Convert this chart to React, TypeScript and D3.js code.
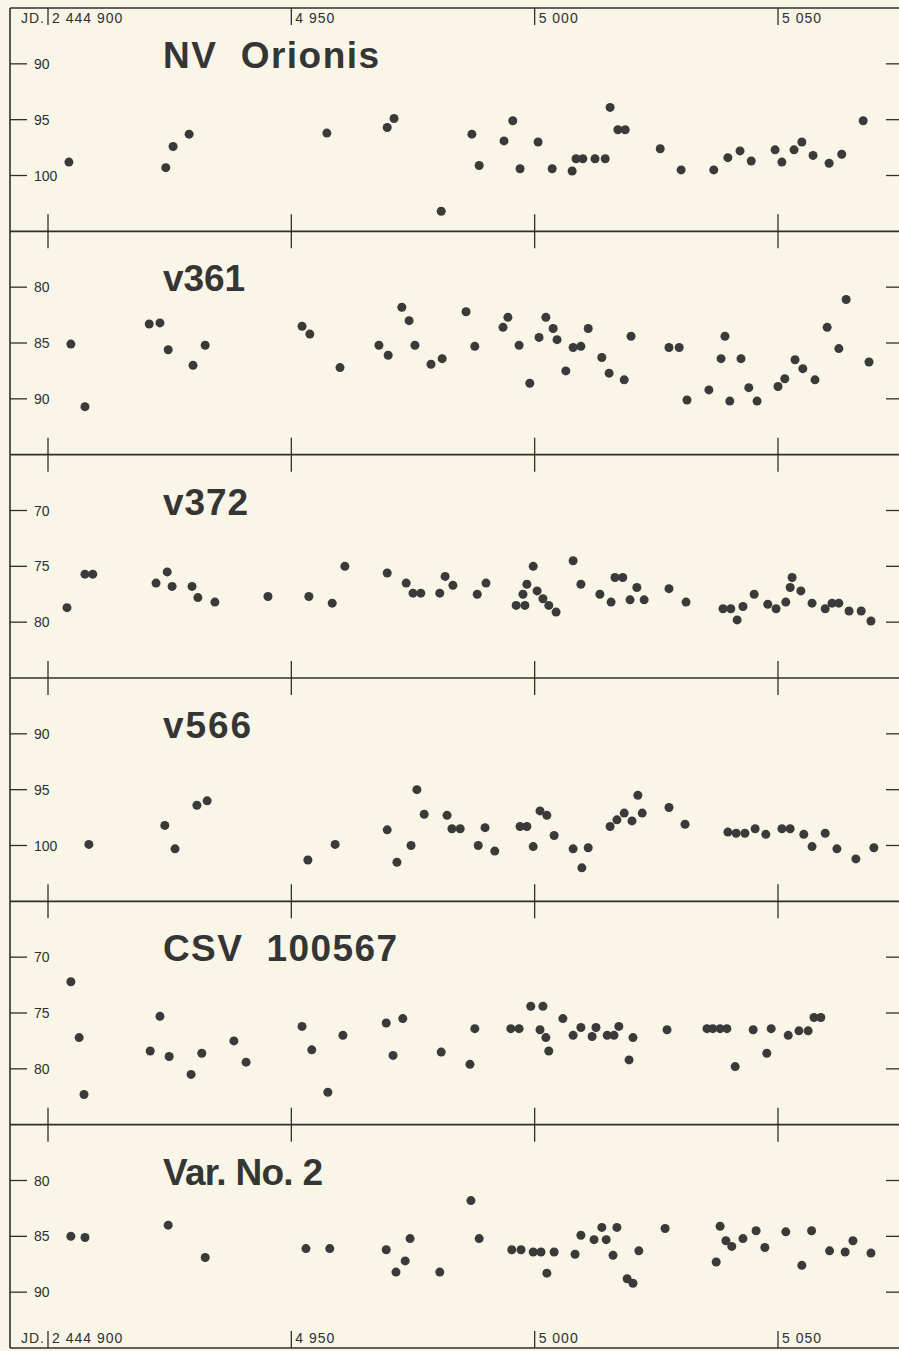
import * as d3 from "d3";

// Light curves, JD (2 444 000 +) vs magnitude (hundredths scale as printed)
const titles = ["NV  Orionis", "v361", "v372", "v566", "CSV  100567", "Var. No. 2"];
const yTicks = [
  [90, 95, 100],
  [80, 85, 90],
  [70, 75, 80],
  [90, 95, 100],
  [70, 75, 80],
  [80, 85, 90],
];
const jdTicks = [4900, 4950, 5000, 5050];
const jdTickLabels = ["2 444 900", "4 950", "5 000", "5 050"];

const nvOrionis: [number, number][] = [
  [4904.3, 98.8], [4924.2, 99.3], [4925.7, 97.4], [4929.0, 96.3], [4957.3, 96.2], [4969.7, 95.7],
  [4971.1, 94.9], [4980.8, 103.2], [4987.1, 96.3], [4988.6, 99.1], [4993.7, 96.9], [4995.5, 95.1],
  [4997.0, 99.4], [5000.7, 97.0], [5003.6, 99.4], [5007.7, 99.6], [5008.5, 98.5], [5009.9, 98.5],
  [5012.4, 98.5], [5014.5, 98.5], [5015.5, 93.9], [5017.1, 95.9], [5018.6, 95.9], [5025.8, 97.6],
  [5030.1, 99.5], [5036.8, 99.5], [5039.7, 98.4], [5042.2, 97.8], [5044.5, 98.7], [5049.4, 97.7],
  [5050.8, 98.8], [5053.3, 97.7], [5054.9, 97.0], [5057.2, 98.2], [5060.5, 98.9], [5063.1, 98.1],
  [5067.5, 95.1],
];

const v361: [number, number][] = [
  [4904.7, 85.1], [4907.6, 90.7], [4920.8, 83.3], [4923.0, 83.2], [4924.7, 85.6], [4929.8, 87.0],
  [4932.3, 85.2], [4952.2, 83.5], [4953.8, 84.2], [4960.0, 87.2], [4968.0, 85.2], [4969.9, 86.1],
  [4972.7, 81.8], [4974.2, 83.0], [4975.4, 85.2], [4978.7, 86.9], [4981.0, 86.4], [4985.9, 82.2],
  [4987.7, 85.3], [4993.5, 83.6], [4994.5, 82.7], [4996.8, 85.2], [4999.0, 88.6], [5000.9, 84.5],
  [5002.3, 82.7], [5003.8, 83.7], [5004.6, 84.7], [5006.4, 87.5], [5007.9, 85.4], [5009.5, 85.3],
  [5011.0, 83.7], [5013.8, 86.3], [5015.3, 87.7], [5018.4, 88.3], [5019.8, 84.4], [5027.6, 85.4],
  [5029.7, 85.4], [5031.3, 90.1], [5035.8, 89.2], [5038.3, 86.4], [5039.1, 84.4], [5040.1, 90.2],
  [5042.4, 86.4], [5044.0, 89.0], [5045.7, 90.2], [5050.0, 88.9], [5051.4, 88.2], [5053.5, 86.5],
  [5055.1, 87.3], [5057.6, 88.3], [5060.1, 83.6], [5062.5, 85.5], [5064.0, 81.1], [5068.7, 86.7],
];

const v372: [number, number][] = [
  [4903.9, 78.7], [4907.6, 75.7], [4909.2, 75.7], [4922.2, 76.5], [4924.5, 75.5], [4925.5, 76.8],
  [4929.6, 76.8], [4930.8, 77.8], [4934.3, 78.2], [4945.2, 77.7], [4953.6, 77.7], [4958.4, 78.3],
  [4961.0, 75.0], [4969.7, 75.6], [4973.6, 76.5], [4975.0, 77.4], [4976.6, 77.4], [4980.5, 77.4],
  [4981.6, 75.9], [4983.2, 76.7], [4988.2, 77.5], [4990.0, 76.5], [4996.2, 78.5], [4997.6, 77.5],
  [4998.0, 78.5], [4998.4, 76.6], [4999.7, 75.0], [5000.5, 77.2], [5001.7, 77.9], [5002.9, 78.5],
  [5004.4, 79.1], [5007.9, 74.5], [5009.5, 76.6], [5013.4, 77.5], [5015.7, 78.2], [5016.5, 76.0],
  [5018.1, 76.0], [5019.6, 78.0], [5021.0, 76.9], [5022.5, 78.0], [5027.6, 77.0], [5031.1, 78.2],
  [5038.7, 78.8], [5040.3, 78.8], [5041.6, 79.8], [5042.8, 78.6], [5045.1, 77.5], [5047.9, 78.4],
  [5049.6, 78.8], [5051.6, 78.2], [5052.5, 76.9], [5052.9, 76.0], [5054.7, 77.2], [5057.0, 78.3],
  [5059.7, 78.8], [5061.1, 78.3], [5062.5, 78.3], [5064.6, 79.0], [5067.1, 79.0], [5069.1, 79.9],
];

const v566: [number, number][] = [
  [4908.4, 99.9], [4924.0, 98.2], [4926.1, 100.3], [4930.6, 96.4], [4932.7, 96.0], [4953.4, 101.3],
  [4959.0, 99.9], [4969.7, 98.6], [4971.7, 101.5], [4974.6, 100.0], [4975.8, 95.0], [4977.3, 97.2],
  [4982.0, 97.3], [4983.0, 98.5], [4984.7, 98.5], [4988.4, 100.0], [4989.8, 98.4], [4991.8, 100.5],
  [4997.0, 98.3], [4998.4, 98.3], [4999.7, 100.1], [5001.1, 96.9], [5002.5, 97.3], [5004.0, 99.1],
  [5007.9, 100.3], [5009.7, 102.0], [5011.0, 100.2], [5015.5, 98.3], [5016.9, 97.7], [5018.4, 97.1],
  [5020.0, 97.8], [5021.2, 95.5], [5022.1, 97.1], [5027.6, 96.6], [5030.9, 98.1], [5039.7, 98.8],
  [5041.4, 98.9], [5043.2, 98.9], [5045.3, 98.5], [5047.5, 99.0], [5050.8, 98.5], [5052.5, 98.5],
  [5055.3, 99.0], [5057.0, 100.1], [5059.7, 98.9], [5062.1, 100.3], [5066.0, 101.2], [5069.7, 100.2],
];

const csv100567: [number, number][] = [
  [4904.7, 72.2], [4906.4, 77.2], [4907.4, 82.3], [4921.0, 78.4], [4923.0, 75.3], [4924.9, 78.9],
  [4929.4, 80.5], [4931.6, 78.6], [4938.2, 77.5], [4940.7, 79.4], [4952.2, 76.2], [4954.2, 78.3],
  [4957.5, 82.1], [4960.6, 77.0], [4969.5, 75.9], [4970.9, 78.8], [4972.9, 75.5], [4980.8, 78.5],
  [4986.7, 79.6], [4987.7, 76.4], [4995.1, 76.4], [4996.8, 76.4], [4999.2, 74.4], [5001.1, 76.5],
  [5001.7, 74.4], [5002.3, 77.2], [5002.9, 78.4], [5005.8, 75.5], [5007.9, 77.0], [5009.5, 76.3],
  [5011.8, 77.1], [5012.6, 76.3], [5014.9, 77.0], [5016.3, 77.0], [5017.3, 76.2], [5019.4, 79.2],
  [5020.2, 77.2], [5027.2, 76.5], [5035.4, 76.4], [5036.6, 76.4], [5038.1, 76.4], [5039.5, 76.4],
  [5041.2, 79.8], [5044.9, 76.5], [5047.7, 78.6], [5048.6, 76.4], [5052.1, 77.0], [5054.3, 76.6],
  [5056.2, 76.6], [5057.4, 75.4], [5058.8, 75.4],
];

const var2: [number, number][] = [
  [4904.7, 85.0], [4907.6, 85.1], [4924.7, 84.0], [4932.3, 86.9], [4953.0, 86.1], [4957.9, 86.1],
  [4969.5, 86.2], [4971.5, 88.2], [4973.4, 87.2], [4974.4, 85.2], [4980.5, 88.2], [4986.9, 81.8],
  [4988.6, 85.2], [4995.3, 86.2], [4997.2, 86.2], [4999.7, 86.4], [5001.3, 86.4], [5002.5, 88.3],
  [5004.0, 86.4], [5008.3, 86.6], [5009.5, 84.9], [5012.2, 85.3], [5013.8, 84.2], [5014.7, 85.3],
  [5016.1, 86.7], [5016.9, 84.2], [5019.0, 88.8], [5020.2, 89.2], [5021.4, 86.3], [5026.8, 84.3],
  [5037.3, 87.3], [5038.1, 84.1], [5039.3, 85.4], [5040.5, 85.9], [5042.8, 85.2], [5045.5, 84.5],
  [5047.3, 86.0], [5051.6, 84.6], [5054.9, 87.6], [5056.9, 84.5], [5060.6, 86.3], [5063.8, 86.4],
  [5065.4, 85.4], [5069.1, 86.5],
];

const series = [nvOrionis, v361, v372, v566, csv100567, var2];

const W = 899;
const H = 1351;
const frameLeft = 10;
const frameTop = 8;
const frameBottom = 1348;
const panelH = (frameBottom - frameTop) / 6;
const titleWidths = [216, 82, 85, 88, 234, 160];
const ink = "#2f2f2f";
const dotColor = "#3a3a3a";
const paper = "#f9f6e7";
const labelFont = "'Liberation Sans', Arial, sans-serif";

export default function App() {
  const x = d3.scaleLinear().domain([4900, 5050]).range([48, 778]);

  const panels = series.map((data, i) => {
    const top = frameTop + i * panelH;
    const t0 = yTicks[i][0];
    const y = d3.scaleLinear().domain([t0 - 5, t0 + 15]).range([top, top + panelH]);
    return { data, top, y, ticks: yTicks[i], title: titles[i] };
  });

  const boundaries = d3.range(1, 6).map((i) => frameTop + i * panelH);

  return (
    <div style={{ position: "absolute", left: 0, top: 0 }}>
      <svg width={W} height={H} style={{ display: "block" }}>
        <rect x={0} y={0} width={W} height={H} fill={paper} />

        {/* frame */}
        <g stroke={ink} strokeWidth={1.6} fill="none">
          <line x1={frameLeft} x2={frameLeft} y1={frameTop} y2={frameBottom} />
          <line x1={frameLeft} x2={W} y1={frameTop} y2={frameTop} />
          <line x1={frameLeft} x2={W} y1={frameBottom} y2={frameBottom} />
          {boundaries.map((b, i) => (
            <line key={i} x1={frameLeft} x2={W} y1={b} y2={b} />
          ))}
        </g>

        {/* JD ticks on every horizontal rule */}
        <g stroke={ink} strokeWidth={1.3}>
          {jdTicks.map((t) => (
            <g key={t}>
              <line x1={x(t)} x2={x(t)} y1={frameTop} y2={frameTop + 17} />
              <line x1={x(t)} x2={x(t)} y1={frameBottom - 17} y2={frameBottom} />
              {boundaries.map((b, i) => (
                <line key={i} x1={x(t)} x2={x(t)} y1={b - 17} y2={b + 17} />
              ))}
            </g>
          ))}
        </g>

        {/* JD labels, top and bottom */}
        {[frameTop + 15, frameBottom - 5].map((base, k) => (
          <g key={k} fontFamily={labelFont} fontSize={14} fill={ink} letterSpacing={1}>
            <text x={frameLeft + 11} y={base}>JD.</text>
            {jdTicks.map((t, j) => (
              <text key={t} x={x(t) + 4} y={base}>
                {jdTickLabels[j]}
              </text>
            ))}
          </g>
        ))}

        {panels.map((p, i) => (
          <g key={i}>
            <text
              x={163}
              y={p.top + 60}
              fontFamily={labelFont}
              fontWeight="bold"
              fontSize={37}
              fill="#353535"
              textLength={titleWidths[i]}
              lengthAdjust="spacing"
              style={{ whiteSpace: "pre" }}
            >
              {p.title}
            </text>
            {p.ticks.map((t) => (
              <g key={t}>
                <line x1={frameLeft} x2={frameLeft + 17} y1={p.y(t)} y2={p.y(t)} stroke={ink} strokeWidth={1.3} />
                <line x1={W - 13} x2={W} y1={p.y(t)} y2={p.y(t)} stroke={ink} strokeWidth={1.3} />
                <text x={34} y={p.y(t) + 5} fontFamily={labelFont} fontSize={14} fill={ink}>
                  {t}
                </text>
              </g>
            ))}
            {p.data.map(([jd, m], k) => (
              <circle key={k} cx={x(jd)} cy={p.y(m)} r={4.5} fill={dotColor} />
            ))}
          </g>
        ))}
      </svg>
    </div>
  );
}
